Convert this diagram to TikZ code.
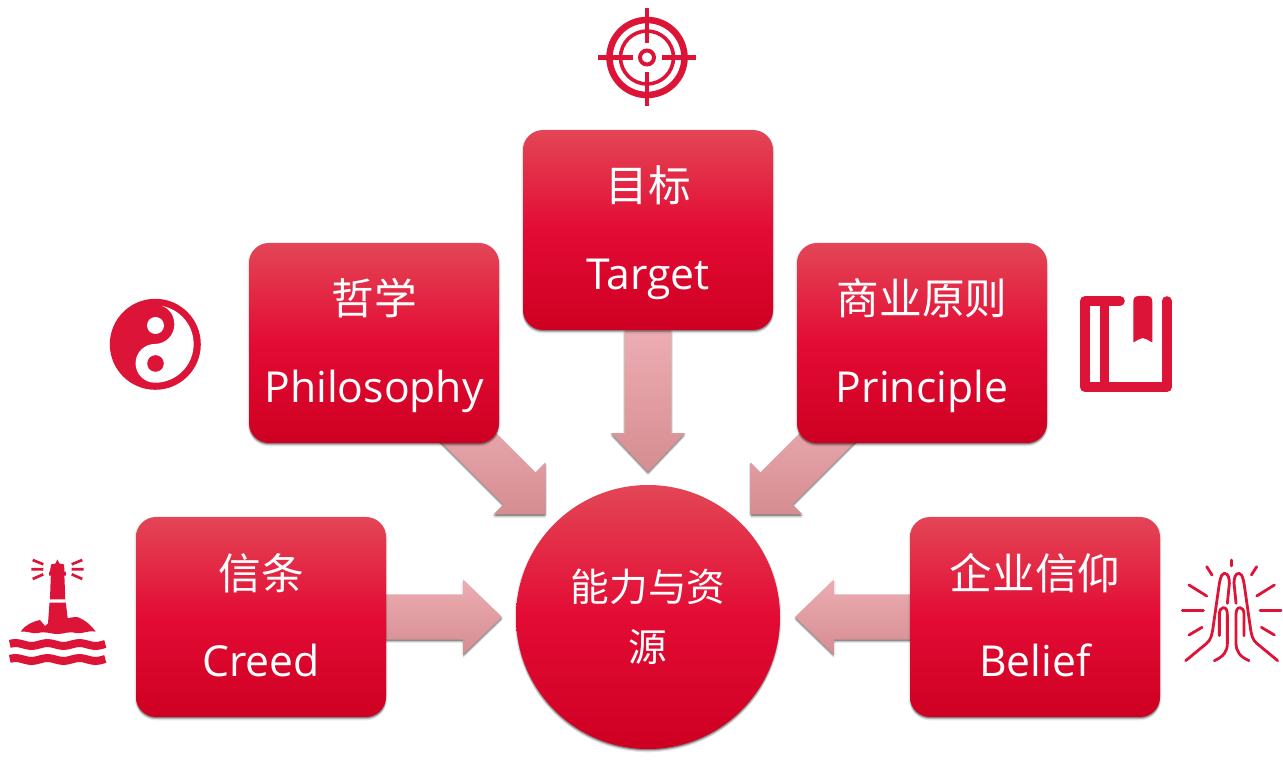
\documentclass[tikz,border=0pt]{standalone}
\usepackage{fontspec}
\setmainfont{Open Sans}
\newfontfamily\cjk{Noto Sans CJK SC}
\usetikzlibrary{calc,shadows,backgrounds}
\definecolor{iconred}{HTML}{DC1437}
\definecolor{rtop}{HTML}{E34656}
\definecolor{rmid}{HTML}{E30B34}
\definecolor{rbot}{HTML}{CE0022}
\definecolor{atop}{HTML}{ECADB2}
\definecolor{abot}{HTML}{D58D91}
\pgfdeclareverticalshading{redgrad}{100bp}{color(0bp)=(rbot);color(25bp)=(rbot);color(50bp)=(rmid);color(75bp)=(rtop);color(100bp)=(rtop)}
\pgfdeclareverticalshading{arrowgrad}{100bp}{color(0bp)=(abot);color(25bp)=(abot);color(75bp)=(atop);color(100bp)=(atop)}
\tikzset{
  softshadow/.style={
    drop shadow={shadow xshift=-1.1pt,shadow yshift=-1pt,opacity=.10,fill=black},
    drop shadow={shadow xshift=1.1pt,shadow yshift=-1pt,opacity=.10,fill=black},
    drop shadow={shadow xshift=0pt,shadow yshift=-.8pt,opacity=.18,fill=black},
    drop shadow={shadow xshift=0pt,shadow yshift=-1.6pt,opacity=.14,fill=black},
    drop shadow={shadow xshift=0pt,shadow yshift=-2.5pt,opacity=.10,fill=black}},
  redbox/.style={shade,shading=redgrad,softshadow,rounded corners=15pt,minimum width=187.5pt,minimum height=150pt,
    inner sep=0pt,text=white,align=center,font=\fontsize{32}{66}\selectfont},
  redcircle/.style={shade,shading=redgrad,softshadow,circle,minimum size=198pt,inner sep=0pt,text=white,align=center,
    font=\cjk\fontsize{29}{45}\selectfont},
  arrowbody/.style={shade,shading=arrowgrad,softshadow},
  iconline/.style={draw=iconred,line cap=round,line join=round},
  iconflat/.style={draw=iconred},
  iconfill/.style={fill=iconred}
}
\newcommand{\boxtext}[2]{\rule{0pt}{32pt}{\cjk #1}\\#2\rule[-8pt]{0pt}{8pt}}
\newcommand{\blockarrow}[5]{%
  \coordinate (ab) at ($(#2)!#5!(#1)$);
  \path[arrowbody] ($(#1)!#3!90:(#2)$) -- ($(ab)!#3!90:(#2)$) -- ($(ab)!#4!90:(#2)$) -- (#2)
    -- ($(ab)!#4!-90:(#2)$) -- ($(ab)!#3!-90:(#2)$) -- ($(#1)!#3!-90:(#2)$) -- cycle;}
\newcommand{\handhalf}{%
  \draw[iconline] (-138,347) -- (-75,295) .. controls (-62,284) and (-60,270) .. (-57,255) -- (-37,115)
     .. controls (-32,90) and (-28,85) .. (-22,85) .. controls (-10,85) and (-7,100) .. (-7,115) -- (-13,175);
  \draw[iconline] (-37,272) -- (-37,210) .. controls (-37,195) and (-32,188) .. (-25,188)
     .. controls (-16,188) and (-13,197) .. (-13,210) -- (-13,295) .. controls (-13,320) and (-25,335) .. (-52,347);
  \draw[iconline] (-75,65) -- (-59,90);
  \draw[iconline] (-128,120) -- (-75,153);
  \draw[iconline] (-148,196) -- (-85,196);
  \draw[iconline] (-128,270) -- (-89,247);
}
\begin{document}
\begin{tikzpicture}[x=.75pt,y=-.75pt]
\useasboundingbox (0,0) rectangle (1283,762);
% central and surrounding nodes
\node[redcircle] (core) at (648,617) {能力与资\\源};
\node[redbox] (target) at (648,230) {\boxtext{目标}{Target}};
\node[redbox] (philo) at (374,343) {\boxtext{哲学}{Philosophy}};
\node[redbox] (princ) at (922,343) {\boxtext{商业原则}{Principle}};
\node[redbox] (creed) at (261,617) {\boxtext{信条}{Creed}};
\node[redbox] (belief) at (1035,617) {\boxtext{企业信仰}{Belief}};
% arrow ends
\coordinate (tipT) at (648,472);
\coordinate (tipP) at (545.5,514.5);
\coordinate (tipR) at (750.5,514.5);
\coordinate (tipC) at (502,617);
\coordinate (tipB) at (795,617);
\coordinate (outP) at ($(philo.center)!.45!(tipP)$);
\coordinate (outR) at ($(princ.center)!.45!(tipR)$);
\begin{scope}[on background layer]
\blockarrow{target.south}{tipT}{17.6pt}{27.7pt}{29.2pt}
\blockarrow{outP}{tipP}{17pt}{27.6pt}{27.6pt}
\blockarrow{outR}{tipR}{17pt}{27.6pt}{27.6pt}
\blockarrow{creed.center}{tipC}{17pt}{28.2pt}{29.2pt}
\blockarrow{belief.center}{tipB}{17pt}{28.2pt}{29.2pt}
\end{scope}
% target icon
\begin{scope}[shift={(647,57.5)}]
\draw[iconflat,line width=4.9pt] (0,0) circle[radius=37.5];
\draw[iconflat,line width=2.7pt] (0,0) circle[radius=26.5];
\draw[iconflat,line width=3pt] (0,0) circle[radius=7];
\draw[iconflat,line width=3.4pt] (-49,0) -- (-14.5,0) (14.5,0) -- (49,0) (0,-49) -- (0,-14.5) (0,14.5) -- (0,49);
\end{scope}
% yin yang icon
\fill[iconred] (155.3,344.3) circle[radius=45.5];
\fill[white] (162,306) arc[start angle=-79.5,end angle=90,radius=38.7] arc[start angle=90,end angle=270,radius=19.4]
  arc[start angle=90,end angle=0,radius=19.4] .. controls (174,315) and (170,309) .. (162,306) -- cycle;
\fill[white] (155.5,325.5) circle[radius=8.5];
\fill[iconred] (155.5,363.5) circle[radius=8.3];
% book icon
\draw[iconline,line width=7.2pt] (1120,301) -- (1085,301) -- (1085,387.3) -- (1166.7,387.3) -- (1166.7,301);
\draw[iconflat,line width=7.2pt] (1104.3,301) -- (1104.3,387.3);
\fill[iconred] (1133.3,342.5) -- (1133.3,302) .. controls (1133.3,298) and (1135,296) .. (1139,296) -- (1146.5,296)
  .. controls (1150.5,296) and (1152.3,298) .. (1152.3,302) -- (1152.3,342.5) -- (1147,339.5) -- (1142.8,338) -- (1138.5,339.5) -- cycle;
% lighthouse icon
\fill[iconred] (57.3,559.5) -- (55.5,563.5) -- (51,564.5) -- (50,571.7) -- (49,571.7) -- (49,575.7) -- (50.8,575.7) -- (50,599.3)
  -- (65.3,599.3) -- (64.4,575.7) -- (65.8,575.7) -- (65.8,571.7) -- (64.5,571.7) -- (64,564.5) -- (59.5,563.5) -- cycle;
\fill[iconred] (49.5,602.7) -- (65.8,602.7) -- (67.7,618.3) .. controls (72,617) and (76,617) .. (78.3,617.3)
  .. controls (85,620) and (91,625) .. (95.7,631.7) .. controls (88,630) and (84,634) .. (76,633) .. controls (68,631) and (64,634) .. (58,634)
  .. controls (50,634) and (46,631) .. (38,633) .. controls (32,634) and (28,631) .. (20.7,631.7)
  .. controls (25,625) and (32,622) .. (40,620) -- (45,626) -- (48,623.5) -- cycle;
\foreach \yw in {644.5,659.5}{
  \draw[iconflat,line width=6pt] plot[smooth,domain=9.8:105.3,samples=50] (\x,{\yw+1.4*sin(11.25*(\x-9.3)+200)});
}
\draw[iconflat,line width=2pt] (32.7,560) -- (43.3,564.3) (31.3,569.3) -- (43.3,569.3) (32.7,579) -- (43.3,574.3)
  (71.7,564.3) -- (82.3,560) (71.7,569.3) -- (83.7,569.3) (71.7,574.3) -- (82.3,579);
% praying hands icon
\begin{scope}[shift={(1231.7,545)},x=.25pt,y=-.25pt]
\tikzset{every path/.append style={line width=2.1pt}}
\draw[iconline] (0,45) -- (0,63);
\handhalf
\begin{scope}[xscale=-1]
\handhalf
\end{scope}
\end{scope}
\end{tikzpicture}
\end{document}
